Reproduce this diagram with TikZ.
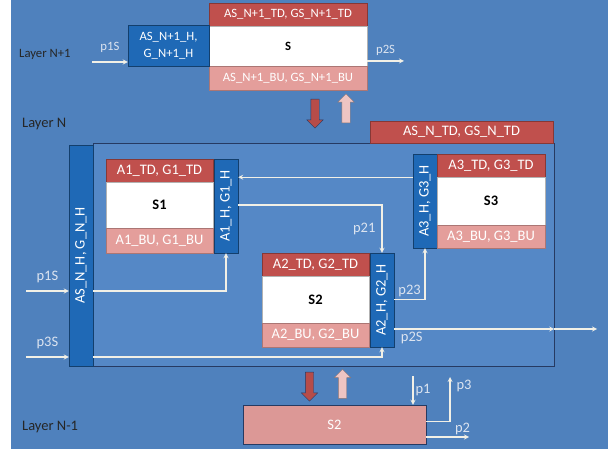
\documentclass[tikz,border=0pt]{standalone}
\usepackage{fontspec}
\setmainfont{Carlito}
\usepackage{graphicx}
\usetikzlibrary{shapes.arrows}

\definecolor{fondo}{RGB}{79,129,189}
\definecolor{fondocapa}{RGB}{85,136,198}
\definecolor{azuloscuro}{RGB}{38,58,98}
\definecolor{azulcab}{RGB}{31,105,182}
\definecolor{rojo}{RGB}{192,80,77}
\definecolor{rosa}{RGB}{228,158,155}
\definecolor{rosaosc}{RGB}{220,152,150}
\definecolor{linea}{RGB}{242,240,230}
\definecolor{etiq}{RGB}{220,228,240}

\newcommand{\fsup}{\fontsize{12.7}{17}\selectfont}

\begin{document}
\begin{tikzpicture}[x=1pt, y=-1pt,
        every node/.style={inner sep=0pt, font=\fontsize{14.5}{17}\selectfont},
        td/.style={draw=rojo!70!black, fill=rojo, text=white, minimum height=23pt},
        bu/.style={draw=rosa!75!black, fill=rosa, text=white, minimum height=24pt},
        caja/.style={draw=gray!60, fill=white, font=\fontsize{14.5}{17}\selectfont\bfseries},
        cab/.style={draw=azulcab!60!black, fill=azulcab, text=white, minimum width=24pt, minimum height=94pt},
        capa/.style={anchor=west, text=black!85},
        etiqueta/.style={text=etiq},
        flecha/.style={->, >=stealth, line width=1.2pt, draw=linea},
        bajar/.style={single arrow, rotate=-90, draw=azuloscuro, fill=rojo!95!black, minimum height=29pt,
            inner xsep=0pt, inner ysep=4pt, single arrow head extend=4pt},
        subir/.style={single arrow, rotate=90, draw=gray!80!rojo, fill=rosa!60!white, minimum height=29pt,
            inner xsep=0pt, inner ysep=4pt, single arrow head extend=4pt}
    ]
    \fill[fondo] (11,0) rectangle (608,449);
    \useasboundingbox (0,0) rectangle (608,449);

    % capa N+1
    \node[capa, font=\fsup] (L1) at (19,54) {Layer N+1};
    \node[td, minimum width=158pt, font=\fsup] (TS) at (288,14.5) {AS\_N+1\_TD, GS\_N+1\_TD};
    \node[caja, minimum width=158pt, minimum height=40pt, font=\fsup\bfseries] (WS) at (288,46) {S};
    \node[bu, minimum width=158pt, font=\fsup] (BS) at (288,78) {AS\_N+1\_BU, GS\_N+1\_BU};
    \node[cab, minimum width=81pt, minimum height=41pt, align=center, font=\fsup] (HS) at (168.5,45.5) {AS\_N+1\_H,\\G\_N+1\_H};

    \node[bajar] (D1) at (315,111.5) {};
    \node[subir] (U1) at (346,110.5) {};

    % capa N
    \node[capa] (L2) at (22,124) {Layer N};
    \node[draw=azuloscuro, fill=fondocapa, minimum width=461pt, minimum height=223pt] (LN) at (323.5,254.5) {};
    \node[td, minimum width=183pt, minimum height=22pt] (TN) at (461.5,132) {AS\_N\_TD, GS\_N\_TD};
    \node[cab, minimum height=221pt] (HN) at (81,255.5) {\rotatebox{90}{AS\_N\_H, G\_N\_H}};

    \node[td, minimum width=107pt] (T1) at (159.5,170.5) {A1\_TD, G1\_TD};
    \node[caja, minimum width=107pt, minimum height=46pt] (W1) at (159.5,205) {S1};
    \node[bu, minimum width=107pt, minimum height=25pt] (B1) at (159.5,240.5) {A1\_BU, G1\_BU};
    \node[cab] (H1) at (226,206) {\rotatebox{90}{A1\_H, G1\_H}};

    \node[td, minimum width=107pt] (T2) at (315.5,264.5) {A2\_TD, G2\_TD};
    \node[caja, minimum width=107pt, minimum height=47pt] (W2) at (315.5,299.5) {S2};
    \node[bu, minimum width=107pt] (B2) at (315.5,335) {A2\_BU, G2\_BU};
    \node[cab] (H2) at (382,300) {\rotatebox{90}{A2\_H, G2\_H}};

    \node[cab] (H3) at (425,201) {\rotatebox{90}{A3\_H, G3\_H}};
    \node[td, minimum width=108pt] (T3) at (491,165.5) {A3\_TD, G3\_TD};
    \node[caja, minimum width=108pt, minimum height=48pt] (W3) at (491,201) {S3};
    \node[bu, minimum width=108pt, minimum height=23pt] (B3) at (491,236.5) {A3\_BU, G3\_BU};

    \node[bajar] (D2) at (309.5,384.5) {};
    \node[subir] (U2) at (342.5,386) {};

    % capa N-1
    \node[capa] (L3) at (22,427) {Layer N-1};
    \node[draw=azuloscuro, fill=rosaosc, text=white, minimum width=183pt, minimum height=39pt] (SB) at (334.5,424.5) {S2};

    % conexiones
    \coordinate (e0) at (92,62);
    \coordinate (s0) at (404,61);
    \coordinate (e1) at (26,291);
    \coordinate (e3) at (26,357);
    \coordinate (s2) at (597,329);
    \coordinate (p1a) at (413,376);
    \coordinate (p3a) at (450,377);
    \coordinate (p2a) at (469,437);

    \draw[flecha] (e0) -- (e0 -| HS.west) node[midway, above=9pt, etiqueta, font=\fsup]{p1S};
    \draw[flecha] (WS.east |- s0) -- (s0) node[midway, above=5pt, etiqueta, font=\fsup]{p2S};

    \draw[flecha] (e1) -- (e1 -| HN.west) node[midway, above=8pt, etiqueta]{p1S};
    \draw[flecha] (e3) -- (e3 -| HN.west) node[midway, above=8pt, etiqueta]{p3S};
    \draw[flecha] (e1 -| HN.east) -| (H1.south);
    \draw[flecha] (e3 -| HN.east) -| (H2.south);
    \draw[flecha] (H3.west |- T3.south) -- (H1.east |- T3.south);
    \draw[flecha] (H1.east |- W1) -| (H2.north) node[pos=0.75, left=6pt, etiqueta]{p21};
    \draw[flecha] (H2.east |- W2) -| (H3.south) node[pos=0.25, above=2pt, etiqueta]{p23};
    \draw[flecha] (H2.east |- s2) -- (s2 -| LN.east) node[pos=0.11, below=2pt, etiqueta]{p2S};
    \draw[flecha] (s2 -| LN.east) -- (s2);

    \draw[flecha] (p1a) -- (p1a |- SB.north) node[midway, right=2pt, etiqueta]{p1};
    \draw[flecha] ([yshift=3pt]SB.east) -| (p3a) node[pos=0.9, right=6pt, etiqueta]{p3};
    \draw[flecha] (SB.east |- p2a) -- (p2a) node[pos=0.85, above=2pt, etiqueta]{p2};
\end{tikzpicture}
\end{document}
